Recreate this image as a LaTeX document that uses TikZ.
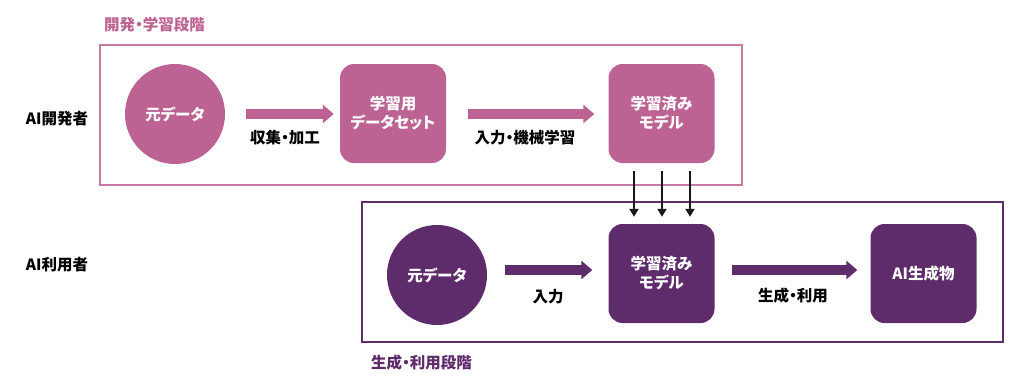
\documentclass[tikz,border=0pt]{standalone}
\usepackage{fontspec}
\setmainfont[RawFeature=+palt]{Noto Sans CJK JP}
\usetikzlibrary{arrows.meta}
\definecolor{pk}{HTML}{BD6394}
\definecolor{pu}{HTML}{5E2B6B}
\begin{document}
\begin{tikzpicture}[x=1pt,y=-1pt,
  txt/.style={font=\fontsize{15.5}{18}\selectfont\bfseries, text=black, inner sep=0pt},
  wtxt/.style={font=\fontsize{15.5}{19}\selectfont\bfseries, text=white, align=center},
  circ/.style={circle, minimum size=100pt, inner sep=0pt},
  rbox/.style={rounded corners=14pt, minimum width=106pt, minimum height=99pt, inner sep=0pt},
  frame/.style={line width=1.6pt},
  bigarrow/.style={line width=10pt, -{Triangle[length=11pt,width=18pt]}},
  downarrow/.style={line width=2.5pt, black!90, -{Triangle[length=8pt,width=9pt]}}
]
\useasboundingbox (0,0) rectangle (1024,391);
% frames
\draw[frame, pk!85!white] (100,45) rectangle (742,185);
\draw[frame, pu] (362,202) rectangle (1003,342);
\node[txt, text=pk, anchor=west] (lab1) at (104,25) {開発・学習段階};
\node[txt, text=pu, anchor=west] (lab2) at (371,363) {生成・利用段階};
\node[txt] (dev) at (57,119) {AI開発者};
\node[txt] (user) at (57,265) {AI利用者};
% top row
\node[circ, fill=pk, wtxt] (c1) at (175,114) {元データ};
\node[rbox, fill=pk, wtxt] (b2) at (393,113.5) {学習用\\データセット};
\node[rbox, fill=pk, wtxt] (b3) at (661.5,113.5) {学習済み\\モデル};
\node[txt] (l1) at (285,138) {収集・加工};
\node[txt] (l2) at (525,138) {入力・機械学習};
% bottom row
\node[circ, fill=pu, wtxt] (c2) at (437,275) {元データ};
\node[rbox, fill=pu, wtxt] (b4) at (661.5,273.5) {学習済み\\モデル};
\node[rbox, fill=pu, wtxt] (b5) at (923.5,273.5) {AI生成物};
\node[txt] (l3) at (548,297) {入力};
\node[txt] (l4) at (793,296) {生成・利用};
% big arrows
\draw[bigarrow, pk, shorten <=21pt, shorten >=6pt] (c1.east) -- (b2.west |- c1.east);
\draw[bigarrow, pk, shorten <=22pt, shorten >=14pt] (b2.east |- c1.east) -- (b3.west |- c1.east);
\draw[bigarrow, pu, shorten <=18pt, shorten >=16pt] (c2.east |- 0,270) coordinate (a3) -- (b4.west |- a3);
\draw[bigarrow, pu, shorten <=17pt, shorten >=13pt] (b4.east |- a3) -- (b5.west |- a3);
% down arrows
\foreach \i/\xx in {1/634,2/662,3/690}{
  \coordinate (d\i) at (\xx,171);
  \draw[downarrow, shorten >=7pt] (d\i) -- (d\i |- b4.north);
}
\end{tikzpicture}
\end{document}
